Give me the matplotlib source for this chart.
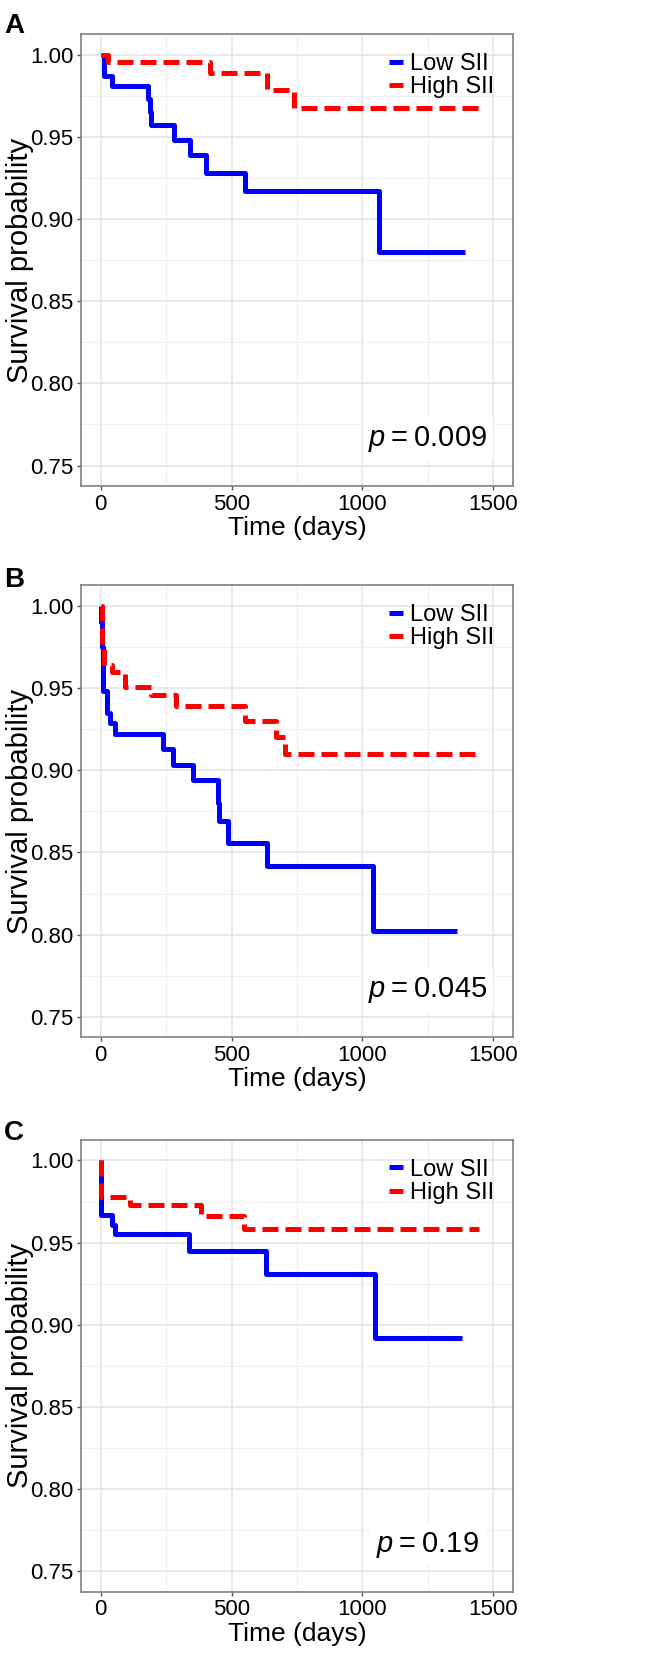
import matplotlib
matplotlib.use("Agg")
import matplotlib.pyplot as plt
from matplotlib.ticker import MultipleLocator

plt.rcParams['font.family'] = ['Liberation Sans', 'DejaVu Sans']
plt.rcParams['mathtext.fontset'] = 'custom'
plt.rcParams['mathtext.it'] = 'Liberation Sans:italic'
plt.rcParams['mathtext.rm'] = 'Liberation Sans'

# Data (time in days, survival probability)
A_low_t = [0, 13, 45, 182, 190, 193, 282, 340, 402, 551, 1062, 1391]
A_low_s = [1.0, 0.987, 0.981, 0.973, 0.965, 0.957, 0.948, 0.939, 0.928, 0.917, 0.880, 0.880]
A_high_t = [0, 28, 417, 636, 738, 1463]
A_high_s = [1.0, 0.9955, 0.9886, 0.9787, 0.9675, 0.9675]

B_low_t = [0, 3, 5, 8, 25, 35, 54, 238, 276, 352, 447, 453, 485, 637, 1042, 1362]
B_low_s = [1.0, 0.99, 0.975, 0.948, 0.935, 0.929, 0.922, 0.913, 0.903, 0.894, 0.880, 0.869,
           0.856, 0.842, 0.802, 0.802]
B_high_t = [0, 5, 12, 45, 92, 194, 286, 552, 668, 706, 1447]
B_high_s = [1.0, 0.974, 0.964, 0.960, 0.951, 0.946, 0.939, 0.930, 0.920, 0.910, 0.910]

C_low_t = [0, 1, 2, 3, 42, 54, 339, 630, 1048, 1381]
C_low_s = [1.0, 0.993, 0.982, 0.967, 0.961, 0.955, 0.945, 0.931, 0.892, 0.892]
C_high_t = [0, 3, 111, 384, 548, 1447]
C_high_s = [1.0, 0.978, 0.973, 0.966, 0.958, 0.958]

panel_labels = ['A', 'B', 'C']
p_values = ['0.009', '0.045', '0.19']
series_names = ['Low SII', 'High SII']

panels = [
    (A_low_t, A_low_s, A_high_t, A_high_s),
    (B_low_t, B_low_s, B_high_t, B_high_s),
    (C_low_t, C_low_s, C_high_t, C_high_s),
]

fig = plt.figure(figsize=(6.57, 16.6), dpi=100)
axes_bottoms = [0.7072, 0.3751, 0.0411]
label_y = [0.9801, 0.6464, 0.3133]

for i, (lt, ls, ht, hs) in enumerate(panels):
    ax = fig.add_axes([0.1233, axes_bottoms[i], 0.6575, 0.2722])
    ax.step(lt, ls, where='post', color='#0000FF', lw=3.6, label=series_names[0],
            solid_capstyle='butt')
    ax.step(ht, hs, where='post', color='#FF0000', lw=3.6, label=series_names[1],
            dashes=(3.2, 1.4), dash_capstyle='butt')

    ax.set_xlim(-75, 1575)
    ax.set_ylim(0.7375, 1.0125)
    ax.xaxis.set_major_locator(MultipleLocator(500))
    ax.xaxis.set_minor_locator(MultipleLocator(250))
    ax.yaxis.set_minor_locator(MultipleLocator(0.025))
    ax.set_yticks([0.75, 0.80, 0.85, 0.90, 0.95, 1.00])
    ax.set_yticklabels(['0.75', '0.80', '0.85', '0.90', '0.95', '1.00'])
    ax.grid(which='major', color='#E6E6E6', lw=1.2)
    ax.grid(which='minor', color='#EFEFEF', lw=0.8)
    ax.set_axisbelow(True)
    for sp in ax.spines.values():
        sp.set_color('#808080')
        sp.set_linewidth(1.2)
    ax.tick_params(which='major', length=3, width=1, color='#555555', labelsize=16,
                   labelcolor='black', pad=2.5)
    ax.tick_params(which='minor', length=0)

    ax.set_xlabel('Time (days)', fontsize=19, labelpad=1)
    ax.set_ylabel('Survival probability', fontsize=21)
    ax.yaxis.set_label_coords(-0.108, 0.5)

    ax.legend(loc='upper left', bbox_to_anchor=(0.675, 0.995), frameon=False,
              fontsize=17, handlelength=0.6, handletextpad=0.3, labelspacing=0.05,
              borderpad=0.2)

    ax.text(1250, 0.762, r'$p$' + '\u2009=\u2009' + p_values[i], fontsize=21,
            ha='center', va='baseline',
            bbox=dict(facecolor='white', edgecolor='none', pad=4))

    fig.text(0.006, label_y[i], panel_labels[i], fontsize=20, fontweight='bold',
             va='baseline')

fig.savefig('out.png', dpi=100)
